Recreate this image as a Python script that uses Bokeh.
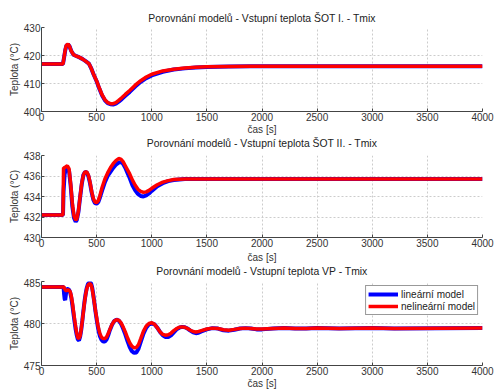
from bokeh.plotting import figure
from bokeh.layouts import column
from bokeh.models import FixedTicker, Legend, LegendItem, Title
from bokeh.embed import file_html
from bokeh.resources import INLINE

FONT = "Liberation Sans"

# --- Vstupní teplota ŠOT I. ---
t1 = [0, 195, 205, 215, 225, 240, 255, 270, 290, 310, 340, 370, 400, 430, 450, 470,
      500, 525, 550, 575, 600, 625, 650, 675, 700, 730, 760, 800, 850, 900, 950, 1000,
      1100, 1200, 1300, 1400, 1500, 1700, 1900, 2200, 4000]
lin1 = [417.0, 417.0, 419.3, 421.8, 423.4, 424.0, 423.2, 421.6, 420.3, 419.9, 419.4, 418.8,
        418.0, 417.1, 415.5, 413.5, 410.8, 408.1, 405.7, 404.0, 403.0, 402.6, 402.5, 402.8,
        403.5, 404.5, 405.6, 407.0, 408.9, 410.6, 411.9, 412.9, 414.2, 415.0, 415.4, 415.7,
        415.9, 416.1, 416.2, 416.2, 416.2]
nelin1 = [417.0, 417.0, 419.5, 422.0, 423.6, 424.1, 423.2, 421.6, 420.3, 419.9, 419.4, 418.8,
          418.0, 417.1, 415.5, 413.5, 410.9, 408.3, 405.9, 404.2, 403.2, 402.8, 402.8, 403.2,
          404.0, 405.0, 406.1, 407.5, 409.4, 411.0, 412.3, 413.3, 414.5, 415.1, 415.5, 415.8,
          416.0, 416.1, 416.2, 416.2, 416.2]

# --- Vstupní teplota ŠOT II. ---
t2 = [0, 195, 200, 210, 220, 235, 250, 265, 280, 295, 310, 320, 335, 350, 365, 380, 395,
      410, 425, 440, 455, 470, 485, 500, 515, 530, 550, 575, 600, 625, 650, 675, 700, 720,
      740, 760, 780, 800, 825, 850, 875, 900, 925, 950, 975, 1000, 1050, 1100, 1150, 1200,
      1300, 1500, 4000]
lin2 = [432.2, 432.2, 434.5, 436.2, 436.6, 436.8, 436.5, 435.0, 433.0, 431.9, 431.55, 431.7,
        432.5, 433.9, 435.2, 436.1, 436.4, 436.35, 436.0, 435.3, 434.4, 433.7, 433.35, 433.3,
        433.45, 433.9, 434.6, 435.4, 436.0, 436.4, 436.8, 437.1, 437.3, 437.35, 437.2, 436.8,
        436.3, 435.8, 435.1, 434.6, 434.25, 434.05, 434.0, 434.1, 434.3, 434.55, 435.0, 435.3,
        435.5, 435.6, 435.7, 435.7, 435.7]
nelin2 = [432.2, 432.2, 436.8, 436.8, 436.9, 437.0, 436.7, 435.2, 433.3, 432.1, 431.7, 431.8,
          432.6, 434.0, 435.3, 436.1, 436.4, 436.4, 436.1, 435.4, 434.5, 433.8, 433.45, 433.4,
          433.6, 434.1, 434.9, 435.7, 436.3, 436.8, 437.2, 437.5, 437.7, 437.65, 437.4, 437.0,
          436.6, 436.2, 435.6, 435.1, 434.7, 434.5, 434.4, 434.45, 434.6, 434.8, 435.15, 435.4,
          435.55, 435.65, 435.7, 435.7, 435.7]

# --- Vstupní teplota VP ---
t3 = [0, 200, 205, 210, 215, 220, 225, 230, 240, 250, 260, 270, 280, 290, 300, 310, 320,
      330, 340, 350, 360, 370, 380, 390, 400, 410, 420, 430, 440, 450, 460, 470, 480, 490,
      500, 510, 520, 530, 545, 560, 575, 590, 605, 620, 640, 660, 680, 700, 720, 740, 760,
      780, 800, 820, 840, 860, 880, 900, 925, 950, 975, 1000, 1025, 1050, 1075, 1100, 1125,
      1150, 1175, 1200, 1225, 1250, 1275, 1300, 1325, 1350, 1375, 1400, 1425, 1450, 1500,
      1550, 1600, 1650, 1700, 1750, 1800, 1850, 1900, 1950, 2000, 2100, 2200, 2300, 2400,
      2500, 2700, 3000, 3200, 4000]
lin3 = [484.35, 484.35, 483.5, 482.9, 482.8, 483.3, 483.9, 484.1, 484.1, 484.0, 483.7, 483.1,
        482.2, 481.2, 480.2, 479.3, 478.6, 478.1, 478.0, 478.4, 479.2, 480.3, 481.5, 482.6,
        483.5, 484.2, 484.65, 484.85, 484.9, 484.75, 484.25, 483.4, 482.4, 481.4, 480.5,
        479.7, 479.0, 478.5, 478.05, 477.85, 477.85, 478.1, 478.6, 479.2, 479.85, 480.3,
        480.45, 480.35, 480.0, 479.4, 478.7, 477.9, 477.2, 476.7, 476.5, 476.55, 477.0,
        477.8, 478.8, 479.5, 479.9, 480.0, 479.9, 479.5, 479.0, 478.6, 478.4, 478.4, 478.6,
        478.95, 479.3, 479.5, 479.6, 479.55, 479.4, 479.15, 478.95, 478.85, 478.9, 479.05,
        479.3, 479.45, 479.4, 479.2, 479.15, 479.25, 479.4, 479.45, 479.4, 479.3, 479.3,
        479.4, 479.45, 479.4, 479.4, 479.45, 479.4, 479.45, 479.4, 479.45]
nelin3 = [484.35, 484.35, 484.3, 484.1, 484.0, 483.95, 483.9, 483.95, 484.0, 483.95, 483.8,
          483.3, 482.5, 481.5, 480.5, 479.6, 478.8, 478.3, 478.2, 478.5, 479.3, 480.3, 481.4,
          482.5, 483.4, 484.1, 484.5, 484.7, 484.75, 484.6, 484.1, 483.3, 482.4, 481.5, 480.7,
          479.9, 479.3, 478.8, 478.35, 478.2, 478.2, 478.4, 478.8, 479.3, 479.9, 480.3, 480.45,
          480.4, 480.1, 479.6, 479.0, 478.3, 477.7, 477.3, 477.1, 477.15, 477.5, 478.2, 479.1,
          479.7, 480.0, 480.1, 479.9, 479.5, 479.0, 478.7, 478.6, 478.65, 478.85, 479.15,
          479.4, 479.55, 479.6, 479.55, 479.4, 479.2, 479.05, 479.0, 479.05, 479.15, 479.35,
          479.45, 479.4, 479.25, 479.2, 479.3, 479.4, 479.45, 479.4, 479.35, 479.35, 479.4,
          479.45, 479.4, 479.4, 479.45, 479.4, 479.45, 479.4, 479.45]

titles = [
    "Porovnání modelů - Vstupní teplota ŠOT I. - Tmix",
    "Porovnání modelů - Vstupní teplota ŠOT II. - Tmix",
    "Porovnání modelů - Vstupní teplota VP - Tmix",
]
y_ticks = [[400, 410, 420, 430], [430, 432, 434, 436, 438], [475, 480, 485]]
x_ticks = list(range(0, 4001, 500))
legend_labels = ["lineární model", "nelineární model"]

AX = "#444444"


def heading(text, **kw):
    return Title(text=text, align="center", text_font=FONT, text_font_size="10.4px",
                 text_font_style="normal", text_color="#222222", **kw)


def make_panel(t, lin, nelin, yt, top, fh, bottom, xlabel_gap=0, with_legend=False):
    p = figure(width=494, height=top + fh + bottom, frame_width=441, frame_height=fh,
               min_border_left=41, min_border_right=12, min_border_top=top,
               min_border_bottom=bottom, x_range=(0, 4000), y_range=(yt[0], yt[-1]),
               output_backend="svg", toolbar_location=None)

    r_lin = p.line(t, lin, line_color="#0000ff", line_width=4)
    r_nel = p.line(t, nelin, line_color="#ff0000", line_width=3.5)

    p.xaxis.ticker = FixedTicker(ticks=x_ticks)
    p.yaxis.ticker = FixedTicker(ticks=yt)
    p.xaxis.axis_label = "čas [s]"
    p.yaxis.axis_label = "Teplota (°C)"
    for ax in (p.xaxis, p.yaxis):
        ax.axis_label_text_font = FONT
        ax.axis_label_text_font_size = "10px"
        ax.axis_label_text_font_style = "normal"
        ax.axis_label_text_color = "#333333"
        ax.major_label_text_font = FONT
        ax.major_label_text_font_size = "10px"
        ax.major_label_text_color = "#333333"
        ax.axis_line_color = AX
        ax.major_tick_line_color = AX
        ax.major_tick_in = 3
        ax.major_tick_out = 0
        ax.minor_tick_line_color = None
        ax.major_label_standoff = 1
    p.yaxis.axis_label_standoff = 1
    p.xaxis.axis_label_standoff = xlabel_gap
    p.grid.grid_line_color = "#cccccc"
    p.grid.grid_line_dash = "2 2"
    p.grid.grid_line_width = 1
    p.outline_line_color = None
    p.background_fill_color = "white"
    p.border_fill_color = "white"

    if with_legend:
        leg = Legend(items=[LegendItem(label=legend_labels[0], renderers=[r_lin]),
                            LegendItem(label=legend_labels[1], renderers=[r_nel])],
                     location="top_right")
        leg.label_text_font = FONT
        leg.label_text_font_size = "10px"
        leg.label_text_color = "#222222"
        leg.glyph_width = 30
        leg.glyph_height = 12
        leg.label_height = 12
        leg.label_standoff = 3
        leg.spacing = 0
        leg.padding = 2
        leg.margin = 4
        leg.border_line_color = "#333333"
        leg.border_line_width = 1
        leg.background_fill_alpha = 1.0
        p.add_layout(leg)
    return p


p1 = make_panel(t1, lin1, nelin1, y_ticks[0], 27, 84, 38, xlabel_gap=0)
p2 = make_panel(t2, lin2, nelin2, y_ticks[1], 5, 82, 40, xlabel_gap=2)
p3 = make_panel(t3, lin3, nelin3, y_ticks[2], 3, 84, 26, xlabel_gap=0, with_legend=True)

# first heading, then a thin blank strip between it and its plot;
# the next headings are stacked under the x axis of the panel before
p1.add_layout(heading(titles[0], vertical_align="top", standoff=4), "above")
p1.add_layout(Title(text=" ", text_font_size="1px", standoff=1), "above")
p1.add_layout(heading(titles[1], vertical_align="top", standoff=0), "below")
p2.add_layout(heading(titles[2], vertical_align="top", standoff=0), "below")

layout = column(p1, p2, p3, spacing=0)
open("out.html", "w").write(file_html(layout, INLINE))
